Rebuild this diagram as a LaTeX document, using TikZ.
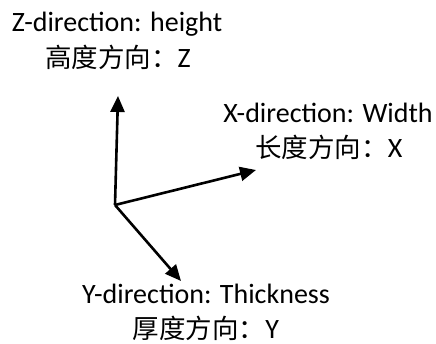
\documentclass[tikz,border=0pt]{standalone}
\usepackage{fontspec}
\setmainfont{Carlito}
\newfontfamily\cjk{Noto Sans CJK SC}
\usetikzlibrary{arrows.meta}
\tikzset{
  axis/.style={line width=2.6pt, -{Triangle[length=16pt,width=14pt]}},
  lat/.style={inner sep=0pt, anchor=base, font=\fontsize{28}{30}\selectfont},
  zh/.style={inner sep=0pt, anchor=base, font=\fontsize{28}{30}\selectfont},
  cjkfont/.style={}
}
\newcommand{\zhtext}[1]{{\cjk\fontsize{26.5}{30}\selectfont #1}}
\begin{document}
\begin{tikzpicture}[x=1pt,y=-1pt]
\useasboundingbox (0,0) rectangle (436,344);
\coordinate (O) at (115,205);
\coordinate (Zt) at (118,96);
\coordinate (Xt) at (256,170);
\coordinate (Yt) at (181,281);
\draw[axis] (O) -- (Zt);
\draw[axis] (O) -- (Xt);
\draw[axis] (O) -- (Yt);
\node[lat] (zl1) at (117,32) {Z-direction: height};
\node[zh] (zl2) at (118,68) {\zhtext{高度方向：}Z};
\node[lat] (xl1) at (328,123) {X-direction: Width};
\node[zh] (xl2) at (329,158) {\zhtext{长度方向：}X};
\node[lat] (yl1) at (206,304) {Y-direction: Thickness};
\node[zh] (yl2) at (206,338) {\zhtext{厚度方向：}Y};
\end{tikzpicture}
\end{document}
